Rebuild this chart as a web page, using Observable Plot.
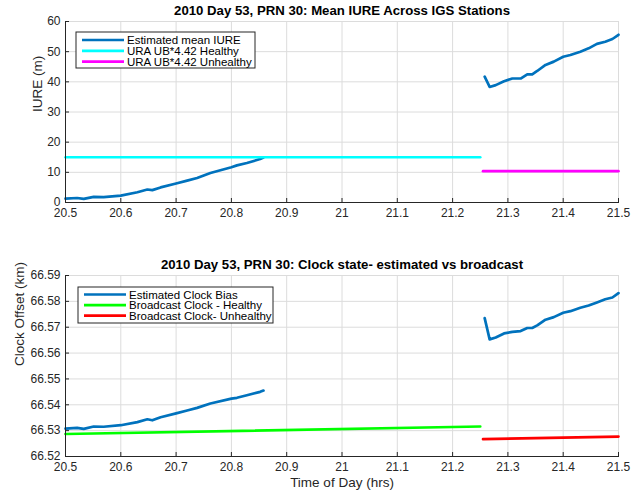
<!DOCTYPE html>
<html><head><meta charset="utf-8">
<script src="https://cdn.jsdelivr.net/npm/d3@7"></script>
<script src="https://cdn.jsdelivr.net/npm/@observablehq/plot@0.6"></script>
<style>
body{margin:0;background:#fff;}
svg{display:block;}
</style>
</head><body><div id="chart"></div>
<script>
// ---------- tick values ----------
const xTicks = [20.5, 20.6, 20.7, 20.8, 20.9, 21, 21.1, 21.2, 21.3, 21.4, 21.5];
const iureTicks = [0, 10, 20, 30, 40, 50, 60];
const clockTicks = [66.52, 66.53, 66.54, 66.55, 66.56, 66.57, 66.58, 66.59];

// ---------- titles / labels ----------
const title1 = "2010 Day 53, PRN 30: Mean IURE Across IGS Stations";
const title2 = "2010 Day 53, PRN 30: Clock state- estimated vs broadcast";
const yLabel1 = "IURE (m)";
const yLabel2 = "Clock Offset (km)";
const xLabel = "Time of Day (hrs)";
const legend1 = ["Estimated mean IURE", "URA UB*4.42 Healthy", "URA UB*4.42 Unhealthy"];
const legend2 = ["Estimated Clock Bias", "Broadcast Clock - Healthy", "Broadcast Clock- Unhealthy"];

// ---------- data: segment before outage ----------
const tSeg1 = [20.5, 20.521, 20.533, 20.551, 20.569, 20.6, 20.63, 20.648, 20.657, 20.672, 20.7, 20.72, 20.738, 20.762, 20.8, 20.81, 20.828, 20.852, 20.858];
const iureSeg1 = [1.3, 1.5, 1.2, 1.85, 1.8, 2.3, 3.4, 4.3, 4.1, 5.0, 6.3, 7.25, 8.1, 9.8, 11.7, 12.3, 13.1, 14.4, 14.9];
const clockSeg1 = [66.5308, 66.5311, 66.5307, 66.5316, 66.5315, 66.5321, 66.5333, 66.5344, 66.5340, 66.5352, 66.5367, 66.5378, 66.5388, 66.5405, 66.5424, 66.5427, 66.5437, 66.5450, 66.5455];

// ---------- data: segment after outage ----------
const tSeg2 = [21.258, 21.267, 21.278, 21.293, 21.308, 21.323, 21.335, 21.344, 21.353, 21.368, 21.383, 21.4, 21.413, 21.431, 21.446, 21.461, 21.476, 21.489, 21.5];
const iureSeg2 = [41.7, 38.3, 38.9, 40.2, 41.1, 41.1, 42.5, 42.5, 43.6, 45.6, 46.7, 48.3, 48.9, 50.0, 51.1, 52.6, 53.3, 54.2, 55.6];
const clockSeg2 = [66.5735, 66.5653, 66.5660, 66.5676, 66.5682, 66.5685, 66.5697, 66.5697, 66.5707, 66.5729, 66.5739, 66.5756, 66.5762, 66.5775, 66.5784, 66.5796, 66.5808, 66.5815, 66.5832];

// ---------- data: broadcast / URA lines ----------
const tHealthy = [20.5, 21.25];
const uraHealthy = [15, 15];
const clockHealthy = [66.5287, 66.5316];
const tUnhealthy = [21.255, 21.5];
const uraUnhealthy = [10.4, 10.4];
const clockUnhealthy = [66.5267, 66.5277];

const zip = (t, v) => t.map((d, i) => ({t: d, v: v[i]}));

const BLUE = "#0072BD", CYAN = "#00FFFF", MAGENTA = "#FF00FF", GREEN = "#00FF00", RED = "#FF0000";
const AX = "#262626", GRID = "#dcdcdc";
const FONT = "'Liberation Sans', Helvetica, Arial, sans-serif";
const fmtX = d => String(+d.toFixed(1));

function panel({height, marginTop, marginBottom, yDomain, yTicks, yFmt, series, title, yLabel, yLabelDx, xLab}) {
  const marginLeft = 65, marginRight = 26, width = 644;
  const frameH = height - marginTop - marginBottom;
  const frameW = width - marginLeft - marginRight;
  const marks = [
    Plot.gridX(xTicks, {stroke: GRID, strokeOpacity: 1}),
    Plot.gridY(yTicks, {stroke: GRID, strokeOpacity: 1}),
    ...series.map(s => Plot.line(s.data, {x: "t", y: "v", stroke: s.color, strokeWidth: 2.7})),
    Plot.frame({anchor: "left", stroke: AX}),
    Plot.frame({anchor: "bottom", stroke: AX}),
    Plot.tickX(xTicks, {x: d => d, stroke: AX, insetTop: frameH - 4}),
    Plot.tickY(yTicks, {y: d => d, stroke: AX, insetRight: frameW - 4}),
    Plot.axisX(xTicks, {tickSize: 0, tickPadding: 6, tickFormat: fmtX, fill: AX, fontSize: 12, label: null}),
    Plot.axisY(yTicks, {tickSize: 0, tickPadding: 5, tickFormat: yFmt, fill: AX, fontSize: 12, label: null}),
    Plot.text([title], {frameAnchor: "top", dy: -11, fontWeight: "bold", fontSize: 13.2, fill: "#000", lineAnchor: "middle"}),
    Plot.text([yLabel], {frameAnchor: "left", dx: yLabelDx, rotate: -90, fontSize: 13.5, fill: AX, lineAnchor: "middle"})
  ];
  if (xLab) marks.push(Plot.text([xLab], {frameAnchor: "bottom", dy: 26, fontSize: 13.5, fill: AX, lineAnchor: "middle"}));
  return Plot.plot({
    width, height, marginLeft, marginRight, marginTop, marginBottom,
    style: {fontFamily: FONT, background: "#fff"},
    x: {domain: [20.5, 21.5], axis: null},
    y: {domain: yDomain, axis: null},
    marks
  });
}

function addLegend(svg, x, y, w, h, first, step, items) {
  const g = d3.select(svg).append("g").attr("text-anchor", "start");
  g.append("rect").attr("x", x).attr("y", y).attr("width", w).attr("height", h)
    .attr("fill", "#fff").attr("stroke", AX).attr("stroke-width", 1);
  items.forEach((it, i) => {
    const yy = y + first + i * step;
    g.append("line").attr("x1", x + 6).attr("x2", x + 48).attr("y1", yy).attr("y2", yy)
      .attr("stroke", it.color).attr("stroke-width", 2.7);
    g.append("text").attr("x", x + 51).attr("y", yy).attr("dy", "0.35em")
      .attr("text-anchor", "start")
      .attr("font-family", FONT).attr("font-size", 11.5).attr("fill", "#000").text(it.label);
  });
}

const p1 = panel({
  height: 245, marginTop: 21, marginBottom: 43,
  yDomain: [0, 60], yTicks: iureTicks, yFmt: d => String(d),
  series: [
    {data: zip(tSeg1, iureSeg1), color: BLUE},
    {data: zip(tSeg2, iureSeg2), color: BLUE},
    {data: zip(tHealthy, uraHealthy), color: CYAN},
    {data: zip(tUnhealthy, uraUnhealthy), color: MAGENTA}
  ],
  title: title1, yLabel: yLabel1, yLabelDx: -28
});
addLegend(p1, 76, 32, 179, 36, 8, 10.8, [
  {label: legend1[0], color: BLUE}, {label: legend1[1], color: CYAN}, {label: legend1[2], color: MAGENTA}
]);

const p2 = panel({
  height: 245, marginTop: 30, marginBottom: 34,
  yDomain: [66.52, 66.59], yTicks: clockTicks, yFmt: d3.format(".2f"),
  series: [
    {data: zip(tSeg1, clockSeg1), color: BLUE},
    {data: zip(tSeg2, clockSeg2), color: BLUE},
    {data: zip(tHealthy, clockHealthy), color: GREEN},
    {data: zip(tUnhealthy, clockUnhealthy), color: RED}
  ],
  title: title2, yLabel: yLabel2, yLabelDx: -46, xLab: xLabel
});
addLegend(p2, 78, 42, 195, 36, 7.5, 10.6, [
  {label: legend2[0], color: BLUE}, {label: legend2[1], color: GREEN}, {label: legend2[2], color: RED}
]);

const c = document.getElementById("chart");
c.appendChild(p1);
c.appendChild(p2);
</script>
</body></html>
